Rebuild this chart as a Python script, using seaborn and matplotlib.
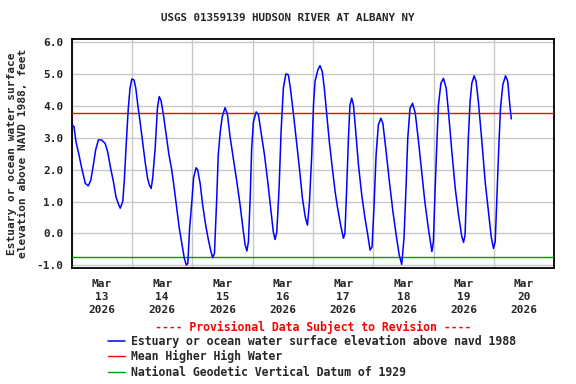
import numpy as np
import pandas as pd
import matplotlib
matplotlib.use("Agg")
import matplotlib.pyplot as plt
import matplotlib.dates as mdates
import seaborn as sns

# gage height readings, hours after 2026-03-13 00:00
hours = [
    0, 0.9, 1.7, 2.9, 4.0, 5.4, 6.6, 7.6, 8.6, 9.5, 10.6, 11.9, 13.3, 14.3,
    15.5, 16.6, 17.6, 18.5, 19.3, 20.3, 20.9, 21.6, 22.5, 23.2, 23.9, 24.8,
    25.5, 26.3, 27.2, 28.3, 29.2, 30.2, 30.9, 31.6, 32.2, 33.2, 34.1, 34.8,
    35.5, 36.5, 37.5, 38.7, 39.8, 40.8, 41.8, 42.8, 43.8, 44.8, 45.6, 46.2,
    46.9, 47.8, 48.5, 49.5, 50.1, 51.1, 52.1, 53.3, 54.4, 55.4, 56.1, 56.8,
    57.7, 58.3, 59.1, 59.9, 61.0, 61.9, 63.0, 64.3, 65.7, 67.0, 68.3, 69.0,
    69.7, 70.3, 71.0, 71.6, 72.3, 73.4, 74.3, 75.3, 76.7, 78.0, 79.3, 80.2,
    80.9, 81.6, 82.5, 83.3, 84.2, 85.2, 86.2, 87.0, 88.2, 89.3, 90.6, 91.8,
    92.9, 93.8, 94.6, 95.5, 96.2, 96.8, 97.9, 98.8, 99.7, 100.5, 101.5,
    102.5, 103.7, 104.8, 105.8, 107.0, 108.1, 108.7, 109.4, 110.1, 110.7,
    111.4, 112.1, 112.9, 114.1, 115.4, 116.7, 117.8, 118.7, 119.5, 120.3,
    121.1, 122.0, 123.0, 123.8, 125.1, 126.4, 127.8, 129.1, 130.3, 131.3,
    132.2, 133.0, 133.7, 134.6, 135.6, 136.7, 138.0, 139.3, 140.5, 141.9,
    143.3, 143.9, 144.6, 145.3, 145.9, 146.9, 147.9, 149.0, 149.9, 151.2,
    152.6, 153.9, 155.2, 155.9, 156.5, 157.2, 157.8, 158.5, 159.2, 160.1,
    160.9, 161.8, 163.2, 164.5, 165.8, 166.9, 167.8, 168.5, 169.2, 169.9,
    170.6, 171.5, 172.6, 173.5, 174.3, 174.9,
]
elevation = [
    3.42, 3.35, 2.87, 2.46, 2.04, 1.57, 1.49, 1.67, 2.14, 2.61, 2.93, 2.93,
    2.82, 2.56, 2.04, 1.62, 1.15, 0.94, 0.79, 1.00, 1.62, 2.67, 3.92, 4.55,
    4.84, 4.81, 4.55, 4.02, 3.50, 2.82, 2.25, 1.72, 1.52, 1.41, 1.72, 2.67,
    3.92, 4.29, 4.18, 3.71, 3.14, 2.46, 1.99, 1.41, 0.79, 0.16, -0.31, -0.78,
    -0.99, -0.94, 0.16, 1.00, 1.75, 2.06, 1.99, 1.57, 0.89, 0.26, -0.21,
    -0.57, -0.76, -0.62, 1.10, 2.46, 3.19, 3.66, 3.94, 3.76, 3.03, 2.35,
    1.62, 0.89, 0.05, -0.36, -0.55, -0.26, 1.10, 2.67, 3.50, 3.81, 3.71,
    3.19, 2.46, 1.62, 0.68, 0.05, -0.19, 0.05, 1.41, 3.19, 4.55, 5.00, 4.97,
    4.55, 3.76, 2.98, 2.04, 1.10, 0.52, 0.26, 0.99, 2.46, 4.02, 4.76, 5.12,
    5.26, 5.07, 4.55, 3.71, 2.87, 2.04, 1.31, 0.79, 0.26, -0.15, 0.00, 1.41,
    2.98, 4.02, 4.24, 4.02, 3.29, 2.14, 1.20, 0.47, -0.05, -0.52, -0.42,
    0.89, 2.46, 3.40, 3.61, 3.45, 2.56, 1.62, 0.68, -0.05, -0.68, -0.97,
    -0.15, 1.41, 2.98, 3.92, 4.08, 3.76, 2.87, 1.88, 0.99, 0.16, -0.57,
    -0.26, 1.41, 2.87, 4.02, 4.71, 4.86, 4.55, 3.81, 2.60, 1.41, 0.58,
    -0.10, -0.28, -0.05, 1.62, 2.98, 4.13, 4.71, 4.94, 4.76, 4.13, 2.87,
    1.62, 0.68, -0.10, -0.47, -0.26, 1.20, 2.67, 3.92, 4.65, 4.94, 4.76,
    4.02, 3.59,
]
mhhw = 3.77
ngvd29 = -0.75

series_label = "Estuary or ocean water surface elevation above navd 1988"
mhhw_label = "Mean Higher High Water"
ngvd_label = "National Geodetic Vertical Datum of 1929"

start = pd.Timestamp("2026-03-13")
df = pd.DataFrame({
    "time": start + pd.to_timedelta(hours, unit="h"),
    "elev": elevation,
})

sns.set_style("white")
plt.rcParams["font.family"] = ["DejaVu Sans Mono"]
plt.rcParams["font.weight"] = "bold"
fs = 8

fig = plt.figure(figsize=(5.76, 3.84), dpi=100)
ax = fig.add_axes([0.1245, 0.302, 0.8378, 0.5957])

ax.axhline(mhhw, color="#ff0000", lw=1.0, label=mhhw_label, zorder=3)
ax.axhline(ngvd29, color="#009900", lw=1.0, label=ngvd_label, zorder=3)
sns.lineplot(data=df, x="time", y="elev", ax=ax, color="#0000ff", lw=1.1,
             label=series_label, zorder=4)

ax.set_xlim(start, start + pd.Timedelta(days=8))
ax.set_ylim(-1.085, 6.085)
ax.set_yticks(np.arange(-1, 7, 1))
ax.set_yticklabels([f"{v:.1f}" for v in np.arange(-1, 7, 1)], fontsize=fs,
                   fontweight="bold")

ax.xaxis.set_major_locator(mdates.DayLocator())
ax.xaxis.set_major_formatter(plt.NullFormatter())
ax.xaxis.set_minor_locator(mdates.HourLocator(byhour=12))
ax.xaxis.set_minor_formatter(mdates.DateFormatter("%b\n%d\n%Y"))
for lbl in ax.get_xticklabels(minor=True):
    lbl.set_fontsize(fs)
    lbl.set_fontweight("bold")
    lbl.set_linespacing(1.35)
ax.tick_params(axis="both", which="both", length=0)
ax.tick_params(axis="x", which="minor", pad=8)
ax.tick_params(axis="y", pad=6)

ax.grid(True, which="major", color="#c8c8c8", lw=1.0)
ax.set_axisbelow(True)
for s in ax.spines.values():
    s.set_color("black")
    s.set_linewidth(1.3)

ax.set_xlabel("")
ax.set_ylabel("Estuary or ocean water surface\nelevation above NAVD 1988, feet",
              fontsize=fs, fontweight="bold", labelpad=6, linespacing=1.15)

fig.text(0.5, 1 - 18 / 384, "USGS 01359139 HUDSON RIVER AT ALBANY NY",
         ha="center", va="center", fontsize=7.8, fontweight="bold")
fig.text(0.5435, 1 - 327 / 384, "---- Provisional Data Subject to Revision ----",
         ha="center", va="center", fontsize=8.3, fontweight="bold", color="#ff0000")

if ax.legend_:
    ax.legend_.remove()
handles, labels = ax.get_legend_handles_labels()
order = [labels.index(series_label), labels.index(mhhw_label), labels.index(ngvd_label)]
fig.legend([handles[i] for i in order], [labels[i] for i in order],
           loc="upper left", bbox_to_anchor=(108 / 576, 1 - 335 / 384),
           frameon=False, fontsize=8.3, handlelength=1.5, handletextpad=0.5,
           labelspacing=0.2, borderpad=0, borderaxespad=0)

fig.savefig("out.png", dpi=100)
